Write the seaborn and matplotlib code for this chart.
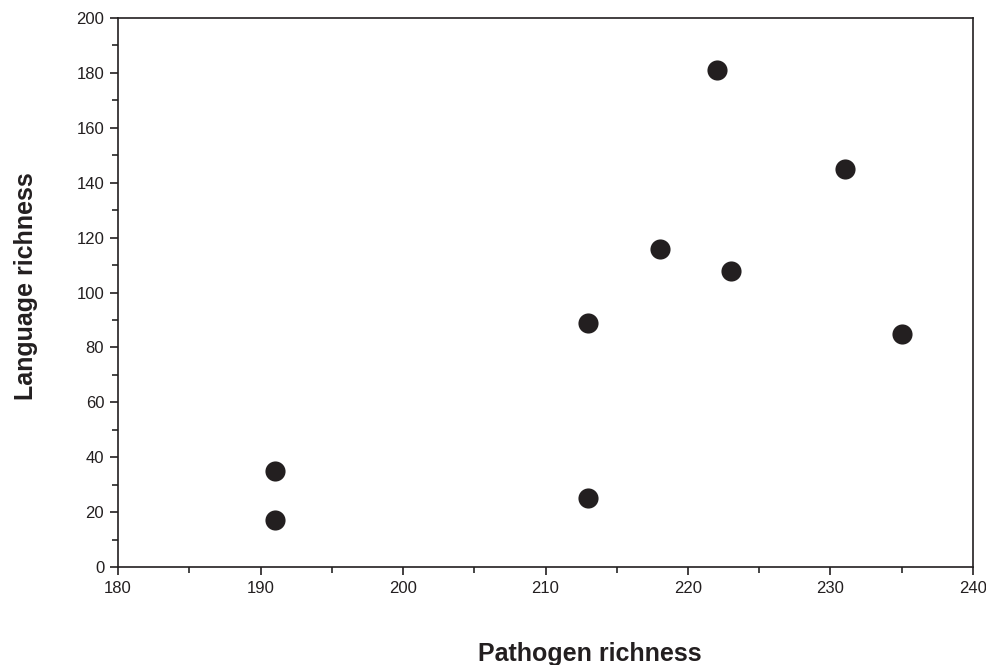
import matplotlib
matplotlib.use("Agg")
import matplotlib.pyplot as plt
import seaborn as sns
import pandas as pd
from matplotlib.ticker import MultipleLocator

pathogen = [191, 191, 213, 213, 218, 222, 223, 231, 235]
language = [35, 17, 25, 89, 116, 181, 108, 145, 85]

df = pd.DataFrame({"Pathogen richness": pathogen, "Language richness": language})

sns.set_style("ticks")
plt.rcParams["font.family"] = ["Liberation Sans", "DejaVu Sans"]

fig = plt.figure(figsize=(9.87, 6.65), dpi=100)
ax = fig.add_axes([0.1196, 0.1474, 0.8662, 0.8255])

sns.scatterplot(data=df, x="Pathogen richness", y="Language richness", ax=ax,
                s=210, color="#231f20", edgecolor="#231f20", linewidth=0, zorder=3, clip_on=False)

ax.set_xlim(180, 240)
ax.set_ylim(0, 200)
ax.xaxis.set_major_locator(MultipleLocator(10))
ax.xaxis.set_minor_locator(MultipleLocator(5))
ax.yaxis.set_major_locator(MultipleLocator(20))
ax.yaxis.set_minor_locator(MultipleLocator(10))
ax.tick_params(which="major", direction="out", length=6, width=1.2, labelsize=12, colors="#231f20", pad=4)
ax.tick_params(which="minor", direction="out", length=4, width=1.2)
for sp in ax.spines.values():
    sp.set_visible(True)
    sp.set_linewidth(1.2)
    sp.set_color("#231f20")

ax.set_xlabel("Pathogen richness", fontsize=18, fontweight="bold", color="#231f20", va="center")
ax.set_ylabel("Language richness", fontsize=18, fontweight="bold", color="#231f20", va="center")
ax.xaxis.set_label_coords(0.552, -0.159)
ax.yaxis.set_label_coords(-0.1075, 0.512)

fig.savefig("out.png", dpi=100)
